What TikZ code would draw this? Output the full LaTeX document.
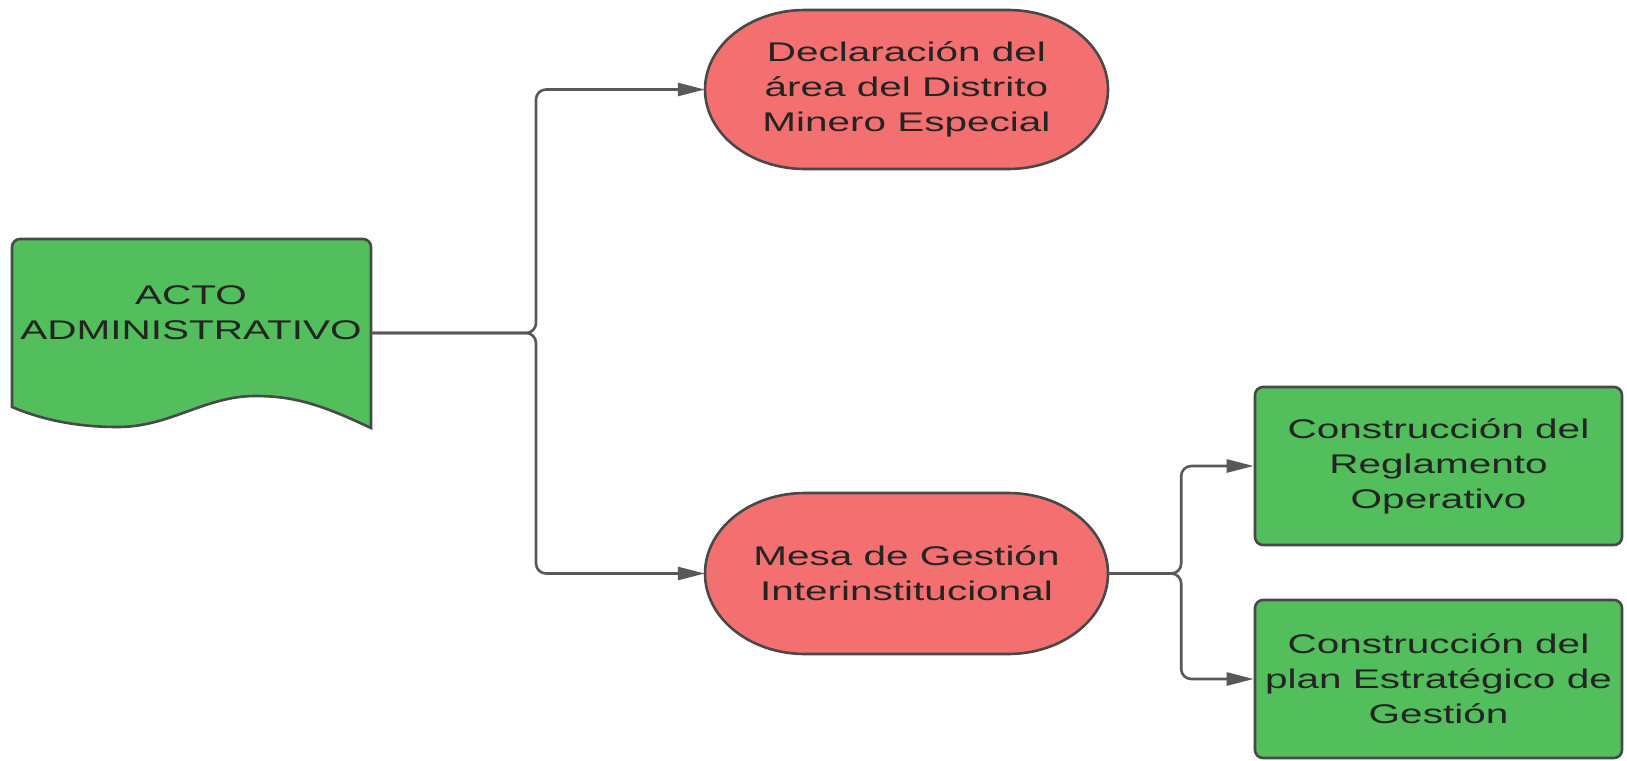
\documentclass[tikz,border=0pt]{standalone}
\usepackage{fontspec}
\newfontfamily\lucid[FakeStretch=1.5]{Liberation Sans}
\usetikzlibrary{arrows.meta}
\definecolor{boxgreen}{RGB}{82,190,92}
\definecolor{boxred}{RGB}{244,112,112}
\definecolor{edgegray}{RGB}{72,72,72}
\definecolor{linegray}{RGB}{88,88,88}
\definecolor{txtdark}{RGB}{36,36,36}
\begin{document}
\begin{tikzpicture}[x=1pt,y=-1pt,
  every node/.style={font=\lucid\fontsize{27}{35}\selectfont, text=txtdark, align=center},
  shapeline/.style={draw=edgegray, line width=2.6pt},
  redlabel/.style={rectangle, minimum width=403pt, minimum height=160pt, inner sep=0pt},
  greenbox/.style={rectangle, rounded corners=8pt, shapeline, fill=boxgreen, minimum width=367pt, minimum height=158pt, inner sep=0pt},
  conn/.style={draw=linegray, line width=2.6pt, rounded corners=10pt, -{Triangle[length=27pt,width=13pt]}}
]
\useasboundingbox (0,0) rectangle (1627,760);
% document shape
\draw[shapeline, fill=boxgreen]
  (12,407) -- (12,247) [rounded corners=8pt] -- (12,239) -- (371,239) [sharp corners] -- (371,428)
  .. controls (322,405) and (295,396) .. (255,396)
  .. controls (205,396) and (170,427) .. (118,427)
  .. controls (72,427) and (38,418) .. (12,407) -- cycle;
\node (doc) at (191,313) {ACTO\\ADMINISTRATIVO};
\coordinate (docout) at (371,333);
\coordinate (j1) at (536,333);
% rounded-oval shapes
\draw[shapeline, fill=boxred]
  (805,10) -- (1008,10) .. controls (1063.2,10) and (1108,45.6) .. (1108,89.5)
  .. controls (1108,133.4) and (1063.2,169) .. (1008,169) -- (805,169)
  .. controls (749.8,169) and (705,133.4) .. (705,89.5)
  .. controls (705,45.6) and (749.8,10) .. (805,10) -- cycle;
\draw[shapeline, fill=boxred]
  (805,493) -- (1008,493) .. controls (1063.2,493) and (1108,529) .. (1108,573.5)
  .. controls (1108,618) and (1063.2,654) .. (1008,654) -- (805,654)
  .. controls (749.8,654) and (705,618) .. (705,573.5)
  .. controls (705,529) and (749.8,493) .. (805,493) -- cycle;
\node[redlabel] (e1) at (906.5,89.5) {Declaración del\\área del Distrito\\Minero Especial};
\node[redlabel] (e2) at (906.5,573.5) {Mesa de Gestión\\Interinstitucional};
% rectangles
\node[greenbox] (r1) at (1438.5,466) {Construcción del\\Reglamento\\Operativo};
\node[greenbox] (r2) at (1438.5,679) {Construcción del\\plan Estratégico de\\Gestión};
\coordinate (j2) at ([xshift=73pt]e2.east);
% connectors
\draw[conn] (docout) -- (j1) |- (e1.west);
\draw[conn] (docout) -- (j1) |- (e2.west);
\draw[conn] (e2.east) -- (j2) |- (r1.west);
\draw[conn] (e2.east) -- (j2) |- (r2.west);
\end{tikzpicture}
\end{document}
